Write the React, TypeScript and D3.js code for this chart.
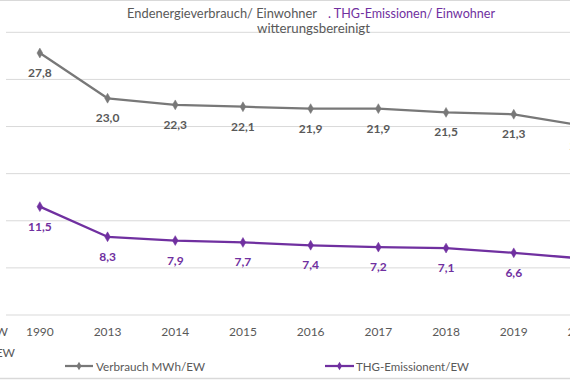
import React from "react";
import * as d3 from "d3";

const years = ["1990", "2013", "2014", "2015", "2016", "2017", "2018", "2019", "2020"];
const verbrauch = [27.8, 23.0, 22.3, 22.1, 21.9, 21.9, 21.5, 21.3, 20.1];
const thg = [11.5, 8.3, 7.9, 7.7, 7.4, 7.2, 7.1, 6.6, 6.0];
const yTicks = [0, 5, 10, 15, 20, 25, 30];
const titleA = "Endenergieverbrauch/ Einwohner";
const titleB = ". THG-Emissionen/ Einwohner";
const subtitle = "witterungsbereinigt";
const legendA = "Verbrauch MWh/EW";
const legendB = "THG-Emissionent/EW";
const axisTitle1 = "MWh/EW";
const axisTitle2 = "t/EW";

const W = 570;
const H = 380;
const FONT = "Lato, 'Open Sans', sans-serif";
const GRAY_LINE = "#787878";
const GRAY_TEXT = "#595959";
const PURPLE = "#7030a0";
const GRID = "#d9d9d9";

const x = d3.scalePoint<string>().domain(years).range([6, 6 + 67.7 * years.length]).padding(0.5);
const y = d3.scaleLinear().domain([0, 30]).range([315, 32.3]);

const fmt = (v: number) => d3.format(".1f")(v).replace(".", ",");

function Series({ values, color, labelColor }: { values: number[]; color: string; labelColor: string }) {
  const pts: [number, number][] = values.map((v, i) => [x(years[i]) as number, y(v)]);
  const line = d3.line()(pts) || "";
  const sym = d3.symbol().type(d3.symbolDiamond).size(28)() || "";
  return (
    <g>
      <path d={line} fill="none" stroke={color} strokeWidth={2.25} strokeLinejoin="round" />
      {pts.map(([px, py], i) => (
        <path key={"m" + i} d={sym} transform={`translate(${px},${py})`} fill={color} stroke={color} strokeWidth={0.5} />
      ))}
      {pts.map(([px, py], i) => (
        <text key={"t" + i} x={px} y={py + 24} textAnchor="middle" fontSize={12} fontWeight="bold" fill={labelColor} fontFamily={FONT}>
          {fmt(values[i])}
        </text>
      ))}
    </g>
  );
}

export default function App() {
  const sym = d3.symbol().type(d3.symbolDiamond).size(22)() || "";
  return (
    <svg width={W} height={H} style={{ position: "absolute", left: 0, top: 0, background: "#fff" }}>
      <rect x={0} y={0} width={W} height={H} fill="#fff" />
      <line x1={0} x2={W} y1={0.5} y2={0.5} stroke={GRID} strokeWidth={1} />
      <line x1={0} x2={W} y1={378.5} y2={378.5} stroke={GRID} strokeWidth={1.5} />
      {yTicks.map((t) => (
        <line key={t} x1={6} x2={W} y1={y(t)} y2={y(t)} stroke={GRID} strokeWidth={1} />
      ))}
      <text x={127} y={18} fontSize={13} fill={GRAY_TEXT} fontFamily={FONT} textLength={190} lengthAdjust="spacingAndGlyphs">
        {titleA}
      </text>
      <text x={328} y={18} fontSize={13} fill={PURPLE} fontFamily={FONT} textLength={167} lengthAdjust="spacingAndGlyphs">
        {titleB}
      </text>
      <text x={313.5} y={33} textAnchor="middle" fontSize={13} fill={GRAY_TEXT} fontFamily={FONT} textLength={113} lengthAdjust="spacingAndGlyphs">
        {subtitle}
      </text>
      <Series values={verbrauch} color={GRAY_LINE} labelColor={GRAY_TEXT} />
      <Series values={thg} color={PURPLE} labelColor={PURPLE} />
      {years.map((yr) => (
        <text key={yr} x={x(yr) as number} y={336} textAnchor="middle" fontSize={12} fill={GRAY_TEXT} fontFamily={FONT}>
          {yr}
        </text>
      ))}
      <text x={8} y={336} textAnchor="end" fontSize={12} fill={GRAY_TEXT} fontFamily={FONT}>{axisTitle1}</text>
      <text x={15} y={357} textAnchor="end" fontSize={12} fill={GRAY_TEXT} fontFamily={FONT}>{axisTitle2}</text>
      <g>
        <line x1={65} x2={93} y1={366} y2={366} stroke={GRAY_LINE} strokeWidth={2.25} />
        <path d={sym} transform="translate(79,366)" fill={GRAY_LINE} />
        <text x={96} y={370.5} fontSize={12} fill={GRAY_TEXT} fontFamily={FONT} textLength={109} lengthAdjust="spacingAndGlyphs">{legendA}</text>
        <line x1={325} x2={354} y1={366} y2={366} stroke={PURPLE} strokeWidth={2.25} />
        <path d={sym} transform="translate(339.5,366)" fill={PURPLE} />
        <text x={356} y={370.5} fontSize={12} fill={GRAY_TEXT} fontFamily={FONT} textLength={113} lengthAdjust="spacingAndGlyphs">{legendB}</text>
      </g>
    </svg>
  );
}
